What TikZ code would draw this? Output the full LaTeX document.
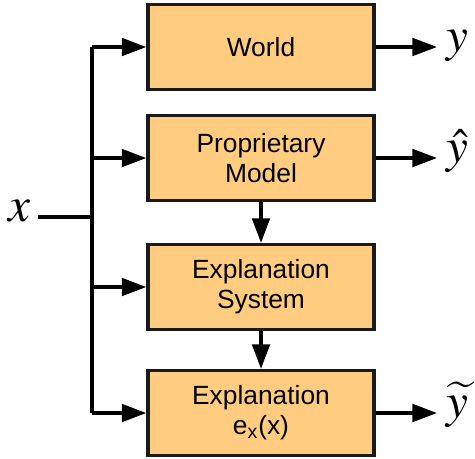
\documentclass[tikz,border=0pt]{standalone}
\usepackage{amsmath}
\usepackage{amssymb}
\usepackage{mathptmx}
\usepackage{fontspec}
\setmainfont{Liberation Sans}
\usepackage{tikz}
\usetikzlibrary{positioning,arrows.meta}
\usepackage{xcolor}
\definecolor{boxfill}{RGB}{255,204,128}
\definecolor{boxline}{RGB}{26,26,26}

\begin{document}
\begin{tikzpicture} [x=0.02cm, y=-0.02cm,
	blk/.style={draw=boxline, fill=boxfill, line width=1.9pt, minimum width=4.52cm, minimum height=1.7cm, align=center, font=\fontsize{15}{17}\selectfont},
	arr/.style={line width=1.9pt, -{Triangle[length=14pt,width=10pt]}},
	lbl/.style={inner sep=0pt, font=\fontsize{28}{30}\selectfont}]
	\useasboundingbox (0,0) rectangle (475,458);
	% the four blocks
	\node [blk] (world) at (261,47) {World};
	\node [blk] (model) at (261,158) {Proprietary\\Model};
	\node [blk] (expsys) at (261,287) {Explanation\\System};
	\node [blk] (expl) at (261,413) {Explanation\\e\textsubscript{x}(x)};
	% input bus
	\coordinate (xin) at (38,217);
	\coordinate (bx) at (92,217);
	\coordinate (b1) at (92,47);
	\coordinate (b2) at (92,158);
	\coordinate (b3) at (92,287);
	\coordinate (b4) at (92,413);
	\node [lbl, anchor=mid east] (xlbl) at ([xshift=-4pt]xin) {$x$};
	\draw [line width=1.9pt] (xin)--(bx);
	\draw [line width=1.9pt] (b1)--(b4);
	\draw [arr] (b1)--(world.west);
	\draw [arr] (b2)--(model.west);
	\draw [arr] (b3)--(expsys.west);
	\draw [arr] (b4)--(expl.west);
	% downward links
	\draw [arr] (model.south)--(expsys.north);
	\draw [arr] (expsys.south)--(expl.north);
	% outputs
	\coordinate (o1) at (437,47);
	\coordinate (o2) at (437,158);
	\coordinate (o4) at (437,413);
	\draw [arr] (world.east)--(o1);
	\draw [arr] (model.east)--(o2);
	\draw [arr] (expl.east)--(o4);
	\node [lbl, anchor=mid west] (ylbl) at ([xshift=5pt]o1) {$y$};
	\node [lbl, anchor=mid west] (yhat) at ([xshift=5pt]o2) {$\hat{y}$};
	\node [lbl, anchor=mid west] (ytil) at ([xshift=5pt]o4) {$\widetilde{y}$};
\end{tikzpicture}
\end{document}
